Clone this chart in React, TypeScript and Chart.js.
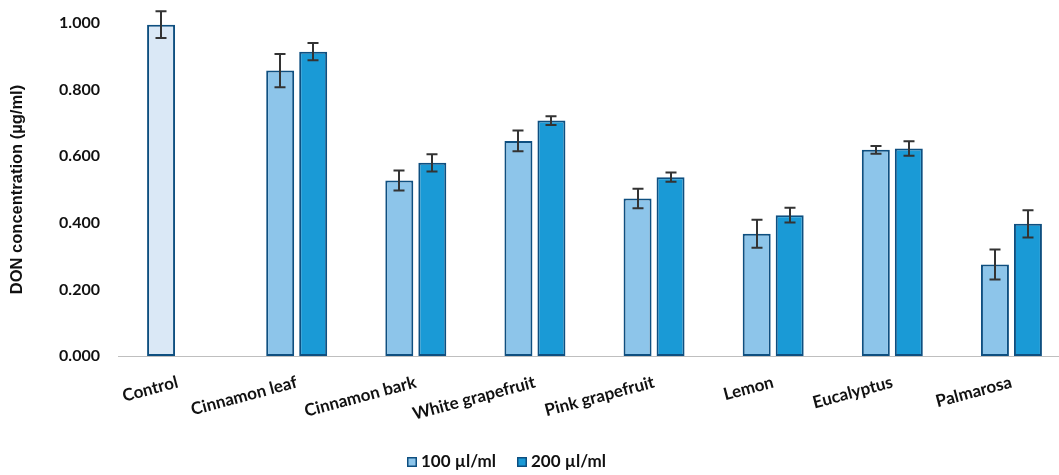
import React, { useEffect, useRef } from "react";
import { Chart, registerables } from "chart.js";

Chart.register(...registerables);

const categories = [
  "Control",
  "Cinnamon leaf",
  "Cinnamon bark",
  "White grapefruit",
  "Pink grapefruit",
  "Lemon",
  "Eucalyptus",
  "Palmarosa",
];
const values100 = [0.995, 0.857, 0.527, 0.646, 0.473, 0.367, 0.619, 0.275];
const errors100 = [0.04, 0.05, 0.03, 0.031, 0.029, 0.042, 0.012, 0.045];
const values200 = [null, 0.914, 0.58, 0.707, 0.537, 0.423, 0.623, 0.397];
const errors200 = [null, 0.026, 0.026, 0.013, 0.014, 0.022, 0.022, 0.041];
const seriesNames = ["100 µl/ml", "200 µl/ml"];
const yTicks = [0, 0.2, 0.4, 0.6, 0.8, 1.0];

const COLOR_CONTROL = "#DAE8F6";
const COLOR_100 = "#8DC5EA";
const COLOR_200 = "#1A9AD6";
const COLOR_BORDER = "#0E4F80";
const TICK_FONT = "Lato";

const errorBarPlugin = {
  id: "errorBars",
  afterDatasetsDraw(chart: any) {
    const ctx = chart.ctx;
    const yScale = chart.scales.y;
    const errs = [errors100, errors200];
    ctx.save();
    ctx.strokeStyle = "#333333";
    ctx.lineWidth = 2;
    chart.data.datasets.forEach((ds: any, di: number) => {
      const meta = chart.getDatasetMeta(di);
      meta.data.forEach((bar: any, i: number) => {
        const v = ds.data[i];
        const e = errs[di][i];
        if (v == null || e == null) return;
        const x = Math.round(bar.x);
        const yTop = yScale.getPixelForValue(v + e);
        const yBot = yScale.getPixelForValue(v - e);
        const cap = 5.5;
        ctx.beginPath();
        ctx.moveTo(x, yTop);
        ctx.lineTo(x, yBot);
        ctx.moveTo(x - cap, yTop);
        ctx.lineTo(x + cap, yTop);
        ctx.moveTo(x - cap, yBot);
        ctx.lineTo(x + cap, yBot);
        ctx.stroke();
      });
    });
    ctx.restore();
  },
};

const legendPlugin = {
  id: "customLegend",
  afterDraw(chart: any) {
    const ctx = chart.ctx;
    const items = [
      { label: seriesNames[0], color: COLOR_100, x: 407 },
      { label: seriesNames[1], color: COLOR_200, x: 517 },
    ];
    ctx.save();
    ctx.font = `bold 17px ${TICK_FONT}`;
    ctx.textBaseline = "middle";
    ctx.textAlign = "left";
    items.forEach((it) => {
      ctx.fillStyle = it.color;
      ctx.fillRect(it.x, 457, 10, 10);
      ctx.strokeStyle = COLOR_BORDER;
      ctx.lineWidth = 1.5;
      ctx.strokeRect(it.x + 0.75, 457.75, 8.5, 8.5);
      ctx.fillStyle = "#111111";
      ctx.fillText(it.label, it.x + 14, 462);
    });
    ctx.restore();
  },
};

export default function App() {
  const ref = useRef<HTMLCanvasElement | null>(null);

  useEffect(() => {
    if (!ref.current) return;
    const chart = new Chart(ref.current, {
      type: "bar",
      data: {
        labels: categories,
        datasets: [
          {
            label: seriesNames[0],
            data: values100,
            backgroundColor: categories.map((_, i) => (i === 0 ? COLOR_CONTROL : COLOR_100)),
            borderColor: COLOR_BORDER,
            borderWidth: 2,
            borderSkipped: false,
            categoryPercentage: 0.554,
            barPercentage: 0.848,
          },
          {
            label: seriesNames[1],
            data: values200,
            backgroundColor: COLOR_200,
            borderColor: COLOR_BORDER,
            borderWidth: 2,
            borderSkipped: false,
            categoryPercentage: 0.554,
            barPercentage: 0.848,
          },
        ],
      },
      options: {
        responsive: false,
        animation: false,
        devicePixelRatio: 1,
        layout: { padding: { top: 23, right: 29, left: 0, bottom: 0 } },
        plugins: {
          legend: { display: false },
          tooltip: { enabled: false },
        },
        scales: {
          x: {
            grid: { display: false, drawTicks: false },
            border: { display: true, color: "#BFBFBF", width: 1 },
            ticks: {
              minRotation: 15,
              maxRotation: 15,
              autoSkip: false,
              padding: 16,
              color: "#111111",
              font: { family: TICK_FONT, weight: "bold", size: 17 },
            },
            afterFit: (s: any) => {
              s.height = 119;
            },
          },
          y: {
            min: 0,
            max: 1.0,
            afterBuildTicks: (s: any) => {
              s.ticks = yTicks.map((v) => ({ value: v }));
            },
            grid: { display: false, drawTicks: false },
            border: { display: false },
            ticks: {
              padding: 18,
              color: "#111111",
              font: { family: TICK_FONT, weight: "bold", size: 16 },
              callback: (v: any) => Number(v).toFixed(3),
            },
            title: {
              display: true,
              text: "DON concentration (µg/ml)",
              color: "#111111",
              font: { family: "Liberation Sans", weight: "bold", size: 16.5 },
              padding: { top: 8, bottom: 0 },
            },
            afterFit: (s: any) => {
              s.width = 118;
              s.paddingTop = 0;
              s.paddingBottom = 0;
            },
          },
        },
      },
      plugins: [errorBarPlugin, legendPlugin],
    });
    return () => chart.destroy();
  }, []);

  return (
    <div
      style={{
        position: "fixed",
        left: 0,
        top: 0,
        width: 1059,
        height: 475,
        overflow: "hidden",
        background: "#ffffff",
      }}
    >
      <canvas ref={ref} width={1100} height={475} style={{ display: "block" }} />
    </div>
  );
}
